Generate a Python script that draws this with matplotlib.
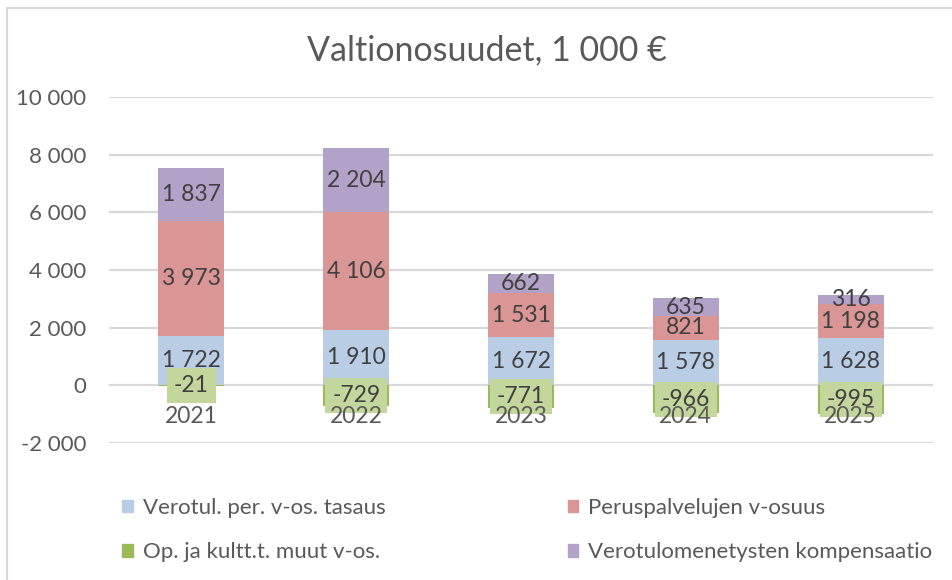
import matplotlib
matplotlib.use("Agg")
import matplotlib.pyplot as plt
from matplotlib.patches import Patch, Rectangle
import numpy as np

plt.rcParams['font.family'] = ['Lato', 'DejaVu Sans']

years = ['2021', '2022', '2023', '2024', '2025']
tasaus = [1722, 1910, 1672, 1578, 1628]
peruspalvelu = [3973, 4106, 1531, 821, 1198]
muut = [-21, -729, -771, -966, -995]
kompensaatio = [1837, 2204, 662, 635, 316]

names = ['Verotul. per. v-os. tasaus', 'Peruspalvelujen v-osuus',
         'Op. ja kultt.t. muut v-os.', 'Verotulomenetysten kompensaatio']
title = 'Valtionosuudet, 1 000 €'
yticks = [-2000, 0, 2000, 4000, 6000, 8000, 10000]

c_blue = '#B9CDE5'
c_red = '#D99694'
c_green = '#9BBB59'
c_green_lbl = '#C3D69B'
c_purple = '#B3A2C7'
txt = '#595959'
lbl = '#404040'
grid = '#D9D9D9'


def fmt(v):
    s = f'{abs(v):,}'.replace(',', ' ')
    return ('-' if v < 0 else '') + s


fig = plt.figure(figsize=(9.53, 5.80), dpi=100)
ax = fig.add_axes([109/953, 1-443/580, 824/953, 346/580])

x = np.arange(len(years))
w = 0.4
tas = np.array(tasaus)
per = np.array(peruspalvelu)
kom = np.array(kompensaatio)
mu = np.array(muut)

ax.bar(x, tas, w, color=c_blue, zorder=2)
ax.bar(x, per, w, bottom=tas, color=c_red, zorder=2)
ax.bar(x, kom, w, bottom=tas + per, color=c_purple, zorder=2)
ax.bar(x, mu, w, color=c_green, zorder=2)

lfs = 16.5
for i in range(len(years)):
    ax.text(x[i], tas[i] / 2, fmt(tas[i]), ha='center', va='center',
            fontsize=lfs, color=lbl, zorder=4)
    ax.text(x[i], tas[i] + per[i] / 2, fmt(per[i]), ha='center', va='center',
            fontsize=lfs, color=lbl, zorder=4)
    ax.text(x[i], tas[i] + per[i] + kom[i] / 2, fmt(kom[i]), ha='center',
            va='center', fontsize=lfs, color=lbl, zorder=4)
    ax.text(x[i], mu[i] / 2, fmt(mu[i]), ha='center', va='center',
            fontsize=lfs, color=lbl, zorder=5,
            bbox=dict(boxstyle='square,pad=0.3', fc=c_green_lbl, ec='none'))
    ax.annotate(years[i], xy=(x[i], 0), xytext=(0, -22.5),
                textcoords='offset points', ha='center', va='center',
                fontsize=lfs, color=txt, zorder=6)

ax.set_xlim(-0.5, len(years) - 0.5)
ax.set_ylim(-2000, 10000)
ax.set_yticks(yticks)
ax.set_yticklabels([fmt(v) for v in yticks], fontsize=16, color=txt)
ax.tick_params(axis='y', length=0, pad=16.5)
ax.set_xticks([])
ax.grid(axis='y', color=grid, linewidth=1.6, zorder=0)
ax.set_axisbelow(True)
for s in ax.spines.values():
    s.set_visible(False)

fig.text(487/953, 1 - 50/580, title, ha='center', va='center',
         fontsize=24.5, color=txt)

handles = [Patch(color=c_blue), Patch(color=c_green),
           Patch(color=c_red), Patch(color=c_purple)]
labels = [names[0], names[2], names[1], names[3]]
fig.legend(handles, labels, loc='upper left',
           bbox_to_anchor=(122/953, 1 - 498/580), ncol=2,
           frameon=False, fontsize=16, labelcolor=txt,
           handlelength=0.48, handleheight=0.48, handletextpad=0.45,
           columnspacing=8.2, labelspacing=1.1, borderpad=0,
           borderaxespad=0)

fig.add_artist(Rectangle((7/953, -0.1), 1.2, 1 - 8/580 + 0.1,
                         transform=fig.transFigure, fill=False,
                         ec=grid, lw=1.5))

fig.savefig('out.png', dpi=100, facecolor='white')
